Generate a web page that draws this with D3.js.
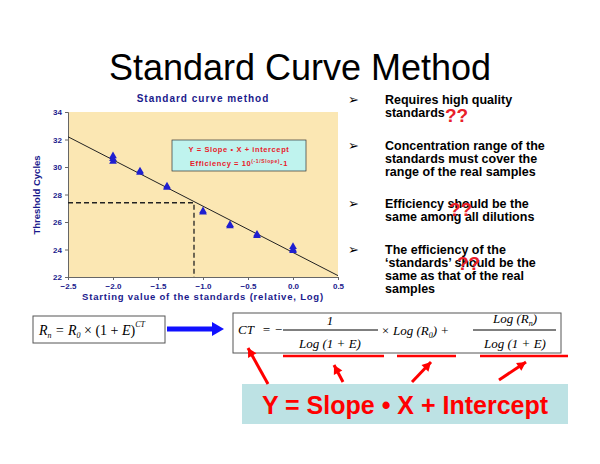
<!DOCTYPE html><html><head><meta charset="utf-8">
<script src="https://cdn.jsdelivr.net/npm/d3@7"></script>
<style>body{margin:0;background:#fff}svg{display:block}</style></head><body>
<svg id="c" width="600" height="464"></svg>
<script>
const pointX=[-2,-2,-2,-1.7,-1.7,-1.4,-1.4,-1,-1,-0.7,-0.7,-0.4,-0.4,0,0,0];
const pointY=[30.8,30.6,30.4,29.7,29.6,28.6,28.5,26.8,26.7,25.8,25.7,25.0,25.1,24.2,24.0,23.9];
const fitX=[-2.5,0.5];
const fitY=[32.2,22.1];
const dashX=[-2.5,-1.1,-1.1];
const dashY=[27.4,27.4,22];
const xTicks=[-2.5,-2.0,-1.5,-1.0,-0.5,0.0,0.5];
const yTicks=[22,24,26,28,30,32,34];
const bullets=[["Requires high quality","standards"],["Concentration range of the","standards must cover the","range of the real samples"],["Efficiency should be the","same among all dilutions"],["The efficiency of the","‘standards’ should be the","same as that of the real","samples"]];

const svg=d3.select("#c");
const navy="#1a1a8c";
svg.append("text").attr("x",300).attr("y",80).attr("text-anchor","middle").attr("font-family","Liberation Sans").attr("font-size",36).text("Standard Curve Method");
const x=d3.scaleLinear().domain([-2.5,0.5]).range([68,338]);
const y=d3.scaleLinear().domain([22,34]).range([277,112]);
svg.append("rect").attr("x",68).attr("y",112).attr("width",270).attr("height",165).attr("fill","#fbe7b3");
const ax=svg.append("g").attr("transform","translate(0,277)").call(d3.axisBottom(x).tickValues(xTicks).tickFormat(d3.format(".1f")).tickSize(3));
const ay=svg.append("g").attr("transform","translate(68,0)").call(d3.axisLeft(y).tickValues(yTicks).tickSize(3));
[ax,ay].forEach(a=>{a.selectAll("text").attr("font-family","Liberation Sans").attr("font-weight","bold").attr("font-size",8).attr("fill",navy);a.selectAll("path,line").attr("stroke","#666");});
svg.append("text").attr("x",203).attr("y",102).attr("text-anchor","middle").attr("font-family","Liberation Sans").attr("font-weight","bold").attr("font-size",10).attr("letter-spacing",1).attr("fill",navy).text("Standard curve method");
svg.append("text").attr("x",203).attr("y",300).attr("text-anchor","middle").attr("font-family","Liberation Sans").attr("font-weight","bold").attr("font-size",9.5).attr("letter-spacing",0.8).attr("fill",navy).text("Starting value of the standards (relative, Log)");
svg.append("text").attr("transform","translate(40,195) rotate(-90)").attr("text-anchor","middle").attr("font-family","Liberation Sans").attr("font-weight","bold").attr("font-size",9.5).attr("fill",navy).text("Threshold Cycles");
const ln=d3.line().x(d=>x(d[0])).y(d=>y(d[1]));
svg.append("path").attr("d",ln(d3.zip(fitX,fitY))).attr("stroke","#222").attr("fill","none");
svg.append("path").attr("d",ln(d3.zip(dashX,dashY))).attr("stroke","#222").attr("stroke-dasharray","5,3").attr("stroke-width",1.3).attr("fill","none");
svg.selectAll(".p").data(d3.zip(pointX,pointY)).join("path").attr("transform",d=>`translate(${x(d[0])},${y(d[1])})`).attr("d",d3.symbol(d3.symbolTriangle,26)).attr("fill","#1f1fd0");
svg.append("rect").attr("x",172).attr("y",140).attr("width",134).attr("height",31).attr("fill","#bff3ee").attr("stroke","#333").attr("stroke-width",0.7);
svg.append("text").attr("x",239).attr("y",152).attr("text-anchor","middle").attr("font-family","Liberation Sans").attr("font-weight","bold").attr("font-size",7.5).attr("fill","#e8202a").attr("letter-spacing",0.6).text("Y = Slope • X + intercept");
const t2=svg.append("text").attr("x",239).attr("y",166).attr("text-anchor","middle").attr("font-family","Liberation Sans").attr("font-weight","bold").attr("font-size",7.5).attr("fill","#e8202a").attr("letter-spacing",0.6);
t2.append("tspan").text("Efficiency = 10");t2.append("tspan").attr("font-size",5).attr("dy",-3).text("(-1/Slope)");t2.append("tspan").attr("dy",3).text("-1");
let by=[104,150,208,254];
bullets.forEach((b,i)=>{
 svg.append("text").attr("x",348).attr("y",by[i]).attr("font-family","DejaVu Sans").attr("font-size",13).text("➢");
 b.forEach((l,j)=>svg.append("text").attr("x",385).attr("y",by[i]+j*13).attr("font-family","Liberation Sans").attr("font-weight","bold").attr("font-size",12.5).text(l));
});
[[445,122],[449,216],[457,270]].forEach(p=>svg.append("text").attr("x",p[0]).attr("y",p[1]).attr("font-family","Liberation Sans").attr("font-weight","bold").attr("font-size",19).attr("fill","#e8202a").text("??"));
const ser="Liberation Serif";
svg.append("rect").attr("x",33).attr("y",316).attr("width",132).attr("height",27).attr("fill","none").attr("stroke","#555");
const f1=svg.append("text").attr("x",39).attr("y",335).attr("font-family",ser).attr("font-style","italic").attr("font-size",14);
f1.append("tspan").text("R");f1.append("tspan").attr("font-size",8).attr("dy",3).text("n");f1.append("tspan").attr("dy",-3).text(" = R");f1.append("tspan").attr("font-size",8).attr("dy",3).text("0");f1.append("tspan").attr("dy",-3).attr("font-style","normal").text(" × (1 + ");f1.append("tspan").text("E");f1.append("tspan").attr("font-style","normal").text(")");f1.append("tspan").attr("font-size",8).attr("dy",-8).text("CT");
svg.append("path").attr("d","M167,329 L215,329").attr("stroke","#1010ff").attr("stroke-width",5);
svg.append("path").attr("d","M212,322 L224,329 L212,336Z").attr("fill","#1010ff");
svg.append("rect").attr("x",233).attr("y",313).attr("width",328).attr("height",40).attr("fill","none").attr("stroke","#555");
const T=(xx,yy,s,sz,anc)=>svg.append("text").attr("x",xx).attr("y",yy).attr("font-family",ser).attr("font-style","italic").attr("font-size",sz||13).attr("text-anchor",anc||"start").text(s);
T(238,334,"CT");T(262,334,"= −");
T(330,325,"1",13,"middle");svg.append("line").attr("x1",283).attr("x2",378).attr("y1",330).attr("y2",330).attr("stroke","#000");T(330,348,"Log (1 + E)",13,"middle");
const m=svg.append("text").attr("x",381).attr("y",335).attr("font-family",ser).attr("font-style","italic").attr("font-size",13);
m.append("tspan").text("× Log (R");m.append("tspan").attr("font-size",8).attr("dy",3).text("0");m.append("tspan").attr("dy",-3).text(") +");
const n=svg.append("text").attr("x",515).attr("y",323).attr("text-anchor","middle").attr("font-family",ser).attr("font-style","italic").attr("font-size",13);
n.append("tspan").text("Log (R");n.append("tspan").attr("font-size",8).attr("dy",3).text("n");n.append("tspan").attr("dy",-3).text(")");
svg.append("line").attr("x1",473).attr("x2",556).attr("y1",330).attr("y2",330).attr("stroke","#000");T(515,348,"Log (1 + E)",13,"middle");
[[283,384],[397,456],[480,568]].forEach(s=>svg.append("line").attr("x1",s[0]).attr("x2",s[1]).attr("y1",356).attr("y2",356).attr("stroke","#f00").attr("stroke-width",2.5));
svg.append("rect").attr("x",242).attr("y",384).attr("width",326).attr("height",40).attr("fill","#bde2e4");
svg.append("text").attr("x",405).attr("y",414).attr("text-anchor","middle").attr("font-family","Liberation Sans").attr("font-weight","bold").attr("font-size",25).attr("fill","#f00").text("Y = Slope • X + Intercept");
[[268,384,248,348],[343,382,334,365],[412,382,431,362],[499,380,526,362]].forEach(a=>{
 svg.append("line").attr("x1",a[0]).attr("y1",a[1]).attr("x2",a[2]).attr("y2",a[3]).attr("stroke","#f00").attr("stroke-width",3);
 const ang=Math.atan2(a[3]-a[1],a[2]-a[0]);const L=10,W=0.5;
 svg.append("path").attr("d",`M${a[2]},${a[3]}L${a[2]-L*Math.cos(ang-W)},${a[3]-L*Math.sin(ang-W)}L${a[2]-L*Math.cos(ang+W)},${a[3]-L*Math.sin(ang+W)}Z`).attr("fill","#f00");
});
</script></body></html>
